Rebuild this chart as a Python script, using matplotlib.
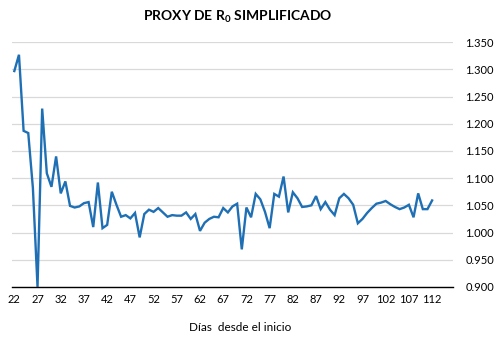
import matplotlib
matplotlib.use("Agg")
import matplotlib.pyplot as plt
import numpy as np

days = list(range(22, 113))
values = [
    1.297, 1.327, 1.187, 1.183, 1.082, 0.900, 1.228, 1.109, 1.084, 1.140,
    1.072, 1.094, 1.049, 1.046, 1.048, 1.054, 1.056, 1.010, 1.092, 1.008,
    1.014, 1.075, 1.051, 1.029, 1.032, 1.026, 1.036, 0.991, 1.034, 1.042,
    1.038, 1.045, 1.037, 1.029, 1.032, 1.031, 1.031, 1.037, 1.025, 1.034,
    1.003, 1.018, 1.025, 1.029, 1.028, 1.045, 1.037, 1.048, 1.053, 0.969,
    1.046, 1.028, 1.071, 1.061, 1.038, 1.008, 1.071, 1.066, 1.103, 1.037,
    1.074, 1.063, 1.047, 1.048, 1.050, 1.067, 1.043, 1.056, 1.042, 1.032,
    1.063, 1.071, 1.063, 1.051, 1.017, 1.025, 1.036, 1.045, 1.053, 1.055,
    1.058, 1.052, 1.047, 1.043, 1.046, 1.051, 1.028, 1.072, 1.043, 1.043,
    1.059,
]
x_ticks = list(range(22, 113, 5))
y_ticks = [0.900, 0.950, 1.000, 1.050, 1.100, 1.150, 1.200, 1.250, 1.300, 1.350]

plt.rcParams['font.family'] = ['Lato', 'DejaVu Sans']
plt.rcParams['mathtext.fontset'] = 'custom'
plt.rcParams['mathtext.rm'] = 'Lato:bold'
plt.rcParams['mathtext.bf'] = 'Lato:bold'

fig = plt.figure(figsize=(5.0, 3.52), dpi=100)
ax = fig.add_axes([0.024, 0.185, 0.882, 0.695])

ax.plot(days, values, color='#1F6FB5', lw=1.7, solid_joinstyle='miter', clip_on=True)

ax.set_xlim(21.5, 116.5)
ax.set_ylim(0.900, 1.350)
ax.set_xticks(x_ticks)
ax.set_xticklabels([str(t) for t in x_ticks])
ax.set_yticks(y_ticks)
ax.set_yticklabels([f"{t:.3f}" for t in y_ticks])
ax.yaxis.tick_right()
ax.tick_params(axis='both', length=0, labelsize=8, colors='#000000')
ax.tick_params(axis='y', pad=9)
ax.tick_params(axis='x', pad=5)

ax.grid(axis='y', color='#D9D9D9', lw=0.9)
ax.set_axisbelow(True)
for s in ['top', 'left', 'right']:
    ax.spines[s].set_visible(False)
ax.spines['bottom'].set_color('#000000')
ax.spines['bottom'].set_linewidth(1.0)
ax.spines['bottom'].set_zorder(3)

fig.text(0.476, 0.952, r'PROXY DE R$_{0}$ SIMPLIFICADO', ha='center', va='center',
         fontsize=10, fontweight='bold')
fig.text(0.48, 0.071, 'Días  desde el inicio', ha='center', va='center', fontsize=8.5)

fig.savefig('out.png', dpi=100)
